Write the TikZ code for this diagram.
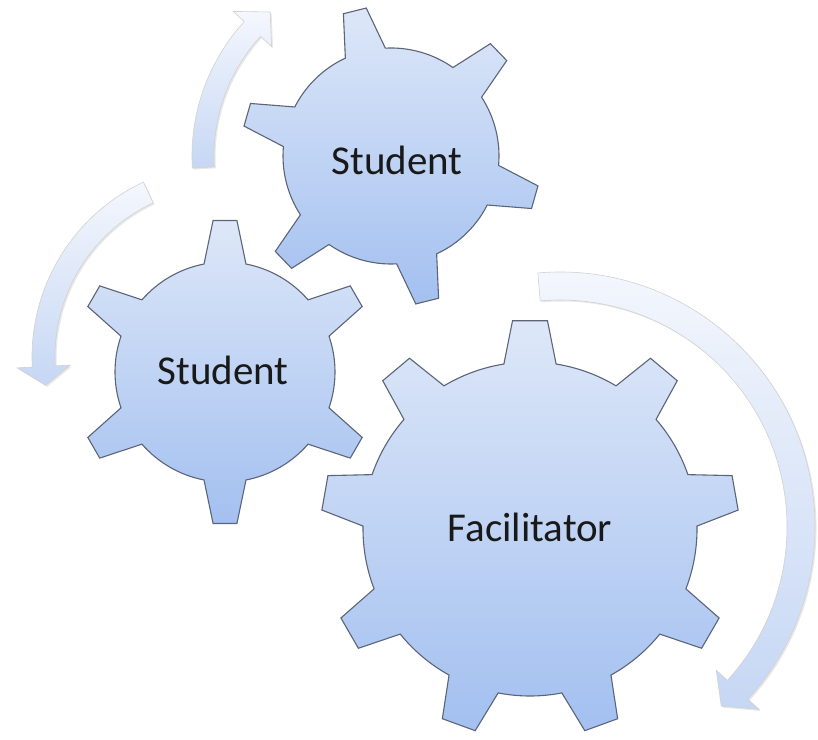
\documentclass[tikz,border=0pt]{standalone}
\usepackage{fontspec}
\setmainfont{Carlito}
\usetikzlibrary{shadows}
\definecolor{geartop}{HTML}{DDE7F8}
\definecolor{gearbot}{HTML}{A3C0F0}
\definecolor{gearline}{HTML}{5B6478}
\definecolor{arrowtop}{HTML}{F4F7FD}
\definecolor{arrowbot}{HTML}{C6D7F4}

\begin{document}
\begin{tikzpicture}[x=1pt,y=1pt,
  gearbody/.style={draw=gearline,line width=1.1pt,top color=geartop,bottom color=gearbot},
  arcarrow/.style={draw=black!18,line width=.6pt,top color=arrowtop,bottom color=arrowbot,
    drop shadow={opacity=.18,shadow xshift=1.5pt,shadow yshift=-1.5pt}},
  gearname/.style={font=\fontsize{41}{49}\selectfont,text=black!90}]
\useasboundingbox (0,0) rectangle (818,739);
\foreach \cx/\cy/\ri/\ro/\sa/\ea/\tip in
  {560/212/227/255/95/-42.5/-48, 225/382/170/193/115/183/189, 391/583/177/199/183.5/137.5/130}
{
\path[arcarrow,shift={(\cx,\cy)}]
  (\sa:\ro) arc[start angle=\sa,end angle=\ea,radius=\ro]
  -- ({\ea}:{\ro+15}) -- ({\tip}:{(\ri+\ro)/2}) -- ({\ea}:{\ri-15})
  -- (\ea:\ri) arc[start angle=\ea,end angle=\sa,radius=\ri] -- cycle;
}
\foreach \cx/\cy/\n/\ang/\ri/\ro/\bw/\tw in
  {225/367/6/90/110/152/11/4.5, 391/583/6/104/108/150/11/4.5, 530/210/9/90/167/209/9/4.8}
{
\pgfmathsetmacro\st{360/\n}
\draw[gearbody,shift={(\cx,\cy)}] ({\ang-\bw}:\ri)
  \foreach \k in {1,...,\n}
  { -- ({\ang+(\k-1)*\st-\tw}:\ro) -- ({\ang+(\k-1)*\st+\tw}:\ro)
    -- ({\ang+(\k-1)*\st+\bw}:\ri)
    arc[start angle={\ang+(\k-1)*\st+\bw},end angle={\ang+\k*\st-\bw},radius=\ri] } -- cycle;
}
\node[gearname] (stuleft) at (223,369) {Student};
\node[gearname] (stutop) at (397,579) {Student};
\node[gearname] (fac) at (530,212) {Facilitator};
\end{tikzpicture}
\end{document}
